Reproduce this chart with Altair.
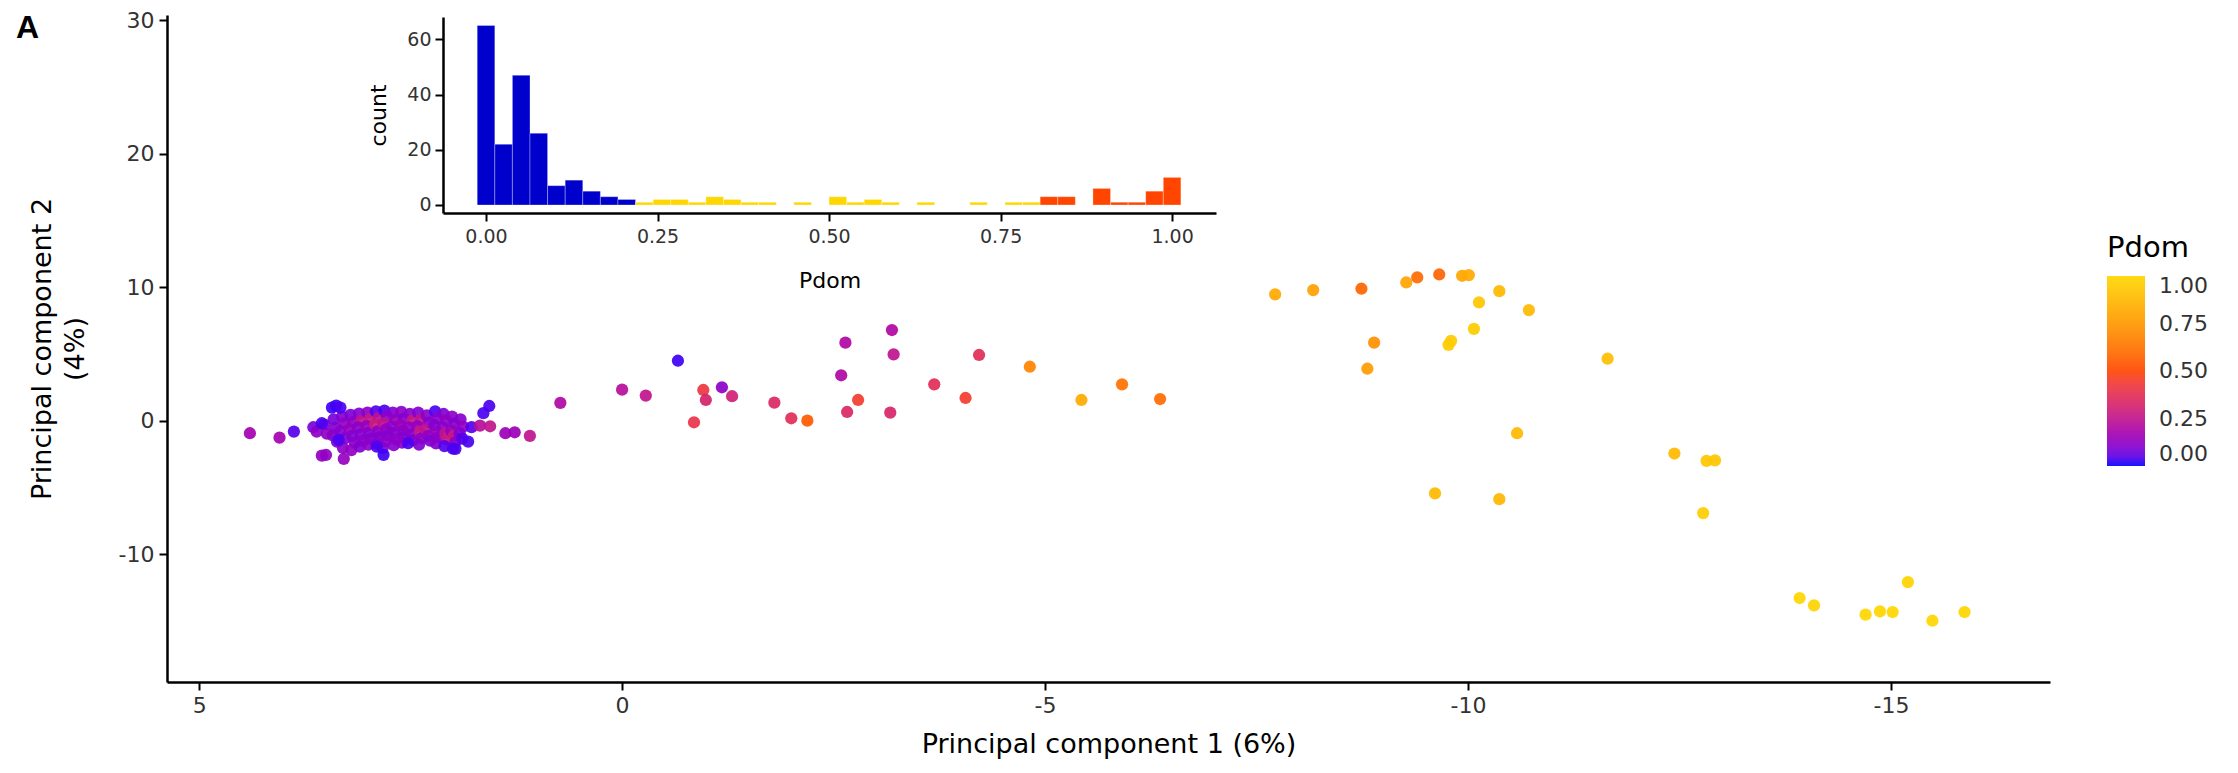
import altair as alt
import pandas as pd

# ---------------- scatter data (PC1, PC2, Pdom) ----------------
# dense cluster on the left
cl_x = [3.52, 3.49,
        3.41, 3.39, 3.42, 3.37,
        3.31, 3.28, 3.33, 3.27, 3.30,
        3.21, 3.18, 3.22, 3.19, 3.16, 3.20,
        3.11, 3.08, 3.12, 3.09, 3.06, 3.10,
        3.01, 2.98, 3.02, 2.99, 2.97, 3.00,
        2.91, 2.88, 2.92, 2.89, 2.87, 2.90,
        2.81, 2.78, 2.82, 2.79, 2.77, 2.80, 2.83,
        2.71, 2.68, 2.72, 2.69, 2.67, 2.70,
        2.61, 2.58, 2.62, 2.59, 2.57, 2.60,
        2.51, 2.48, 2.52, 2.49, 2.47,
        2.41, 2.38, 2.42, 2.39, 2.37, 2.40,
        2.31, 2.28, 2.32, 2.29, 2.27,
        2.21, 2.18, 2.22, 2.19, 2.17, 2.20,
        2.11, 2.08, 2.12, 2.09, 2.07, 2.10,
        2.01, 1.98, 2.02, 1.99, 1.97, 2.00,
        1.91, 1.88, 1.92, 1.89]
cl_y = [-0.28, -0.95,
        0.12, -0.52, -1.08, -1.55,
        0.33, -0.18, -0.78, -1.28, -2.02,
        0.45, -0.08, -0.62, -1.12, -1.63, -2.18,
        0.55, 0.02, -0.48, -1.02, -1.47, -1.92,
        0.62, 0.12, -0.38, -0.88, -1.33, -1.78,
        0.72, 0.22, -0.28, -0.78, -1.22, -1.68,
        0.78, 0.32, -0.18, -0.62, -1.08, -1.52, -2.02,
        0.62, 0.08, -0.42, -0.92, -1.38, -1.82,
        0.68, 0.18, -0.32, -0.72, -1.18, -1.62,
        0.52, 0.02, -0.48, -1.02, -1.42,
        0.62, 0.08, -0.38, -0.82, -1.28, -1.78,
        0.42, -0.12, -0.62, -1.12, -1.48,
        0.72, 0.18, -0.32, -0.82, -1.22, -1.68,
        0.52, 0.02, -0.48, -0.92, -1.38, -1.88,
        0.32, -0.22, -0.72, -1.12, -1.58, -2.08,
        0.12, -0.42, -0.92, -1.32]
cl_p = [0.10, 0.12,
        0.08, 0.10, 0.12, 0.09,
        0.10, 0.13, 0.11, 0.10, 0.12,
        0.09, 0.12, 0.14, 0.10, 0.11, 0.13,
        0.10, 0.25, 0.12, 0.10, 0.12, 0.10,
        0.12, 0.27, 0.14, 0.11, 0.10, 0.12,
        0.04, 0.24, 0.28, 0.12, 0.10, 0.11,
        0.03, 0.12, 0.25, 0.13, 0.10, 0.12, 0.10,
        0.10, 0.14, 0.12, 0.10, 0.13, 0.11,
        0.12, 0.10, 0.15, 0.12, 0.10, 0.12,
        0.11, 0.27, 0.13, 0.11, 0.10,
        0.10, 0.25, 0.14, 0.27, 0.12, 0.10,
        0.12, 0.11, 0.24, 0.13, 0.10,
        0.03, 0.12, 0.10, 0.14, 0.12, 0.11,
        0.10, 0.13, 0.11, 0.25, 0.27, 0.04,
        0.12, 0.10, 0.14, 0.27, 0.12, 0.03,
        0.11, 0.13, 0.10, 0.04]

# points around the cluster edge
ed_x = [4.40, 4.05, 3.88, 3.65, 3.61, 3.55, 3.43, 3.38, 3.33, 3.55, 3.50,
        3.29, 2.82, 3.35, 2.90, 2.53, 1.97, 1.82, 1.78, 1.64, 1.57, 1.68, 1.56]
ed_y = [-0.92, -1.25, -0.80, -0.47, -0.80, -0.17, 1.00, 1.15, 1.00, -2.60, -2.55,
        -2.84, -2.54, -1.42, -1.92, -1.67, -2.09, -1.55, -0.47, 0.58, 1.12, -0.35, -0.40]
ed_p = [0.17, 0.17, 0.04, 0.08, 0.12, 0.03, 0.02, 0.02, 0.03, 0.13, 0.13,
        0.14, 0.02, 0.03, 0.03, 0.03, 0.03, 0.03, 0.04, 0.03, 0.03, 0.22, 0.25]

# spread-out points (middle and right)
sp_x = [1.38, 1.27, 1.09, 0.73, 0.00, -0.28, -0.66, -0.85, -0.96, -0.99, -1.18,
        -1.30, -1.80, -2.00, -2.19, -2.59, -2.64, -2.66, -2.79, -3.19, -3.21,
        -3.17, -3.69, -4.06, -4.22, -4.82, -5.43, -5.91, -6.36,
        -7.72, -8.17, -8.74, -9.27, -9.40, -9.66, -9.93, -10.01, -10.37, -10.13,
        -10.72, -10.07, -9.77, -9.80, -8.89, -8.81, -11.65, -10.58, -12.44,
        -12.82, -12.92, -9.61, -10.37, -12.78, -13.92, -14.09, -14.70, -14.87,
        -15.02, -15.20, -15.49, -15.87]
sp_y = [-0.92, -0.85, -1.12, 1.35, 2.34, 1.90, 4.51, -0.10, 2.32, 1.57, 2.52,
        1.85, 1.37, 0.20, 0.02, 3.42, 5.86, 0.67, 1.57, 6.81, 4.99,
        0.62, 2.74, 1.72, 4.94, 4.06, 1.57, 2.74, 1.64,
        9.48, 9.80, 9.90, 10.37, 10.75, 10.97, 10.87, 10.92, 9.72, 8.88,
        8.30, 6.90, 5.70, 6.00, 5.86, 3.91, 4.66, -0.92, -2.44,
        -2.99, -2.95, -5.43, -5.86, -6.90, -13.26, -13.81, -14.51, -14.26,
        -14.31, -12.07, -14.96, -14.31]
sp_p = [0.15, 0.15, 0.25, 0.20, 0.22, 0.25, 0.02, 0.40, 0.42, 0.32, 0.12,
        0.30, 0.34, 0.37, 0.55, 0.20, 0.20, 0.34, 0.45, 0.20, 0.25,
        0.33, 0.37, 0.45, 0.37, 0.68, 0.82, 0.62, 0.60,
        0.82, 0.78, 0.58, 0.80, 0.60, 0.58, 0.80, 0.82, 0.88, 0.93,
        0.88, 0.95, 0.95, 0.95, 0.72, 0.76, 0.90, 0.88, 0.88,
        0.93, 0.93, 0.88, 0.87, 0.96, 1.00, 0.98, 1.00, 0.99,
        1.00, 0.98, 1.00, 0.99]

# ---------------- histogram data (40 bins over Pdom 0..1) ----------------
bin_index = list(range(40))
bin_count = [65, 22, 47, 26, 7, 9, 5, 3, 2, 1,
             2, 2, 1, 3, 2, 1, 1, 0, 1, 0,
             3, 1, 2, 1, 0, 1, 0, 0, 1, 0,
             1, 1, 3, 3, 0, 6, 1, 1, 5, 10]
bin_group = ["low"] * 9 + ["mid"] * 23 + ["high"] * 8
group_names = ["low", "mid", "high"]
group_colors = ["#0000CD", "#FFD700", "#FF4500"]

pdom_ticks = [0, 0.25, 0.5, 0.75, 1]
panel_label = ["A"]

scatter_df = pd.DataFrame({
    "pc1": cl_x + ed_x + sp_x,
    "pc2": cl_y + ed_y + sp_y,
    "Pdom": cl_p + ed_p + sp_p,
})

binw = 1 / 39
hist_df = pd.DataFrame({
    "lo": [k * binw - binw / 2 for k in bin_index],
    "hi": [k * binw + binw / 2 for k in bin_index],
    "count": bin_count,
    "grp": bin_group,
})
hist_df = hist_df[hist_df["count"] > 0]

FONT = "DejaVu Sans"
W, H = 1883, 667
NEG = "datum.value < 0 ? '-' + abs(datum.value) : '' + datum.value"

points = alt.Chart(scatter_df).mark_circle(size=150, opacity=0.92).encode(
    x=alt.X("pc1:Q",
            scale=alt.Scale(domain=[-16.88, 5.38], reverse=True, nice=False, zero=False),
            axis=alt.Axis(orient="bottom", values=[5, 0, -5, -10, -15], labelExpr=NEG,
                          title="Principal component 1 (6%)",
                          titleFontSize=27, titleBaseline="alphabetic", titleY=70,
                          labelFontSize=22, labelPadding=5)),
    y=alt.Y("pc2:Q",
            scale=alt.Scale(domain=[-19.55, 30.4], nice=False, zero=False),
            axis=alt.Axis(orient="left", values=[-10, 0, 10, 20, 30], labelExpr=NEG,
                          title=["Principal component 2", "(4%)"],
                          titleFontSize=27, titleBaseline="middle", titleX=-125,
                          titleLineHeight=33, labelFontSize=22, labelPadding=5)),
    color=alt.Color("Pdom:Q",
                    scale=alt.Scale(domain=[0, 0.5, 1], range=["blue", "orangered", "gold"],
                                    interpolate="lab"),
                    legend=alt.Legend(orient="none", legendX=1940, legendY=219,
                                      direction="vertical", gradientLength=190,
                                      gradientThickness=38, title="Pdom",
                                      titleFontSize=29, titleFont=FONT,
                                      titleFontWeight="normal", titleColor="black",
                                      titlePadding=13, labelFontSize=22, labelFont=FONT,
                                      labelColor="#333333", labelOffset=14,
                                      values=pdom_ticks, format=".2f",
                                      gradientStrokeWidth=0)),
)

bars = alt.Chart(hist_df).mark_rect(stroke="white", strokeWidth=0.6, strokeOpacity=0.5).encode(
    x=alt.X("lo:Q",
            scale=alt.Scale(domain=[-0.0627, 1.064], range=[276, 1049], nice=False, zero=False),
            axis=alt.Axis(orient="bottom", offset=-469, values=pdom_ticks, format=".2f",
                          title="Pdom", titleFontSize=22, titleBaseline="alphabetic",
                          titleY=74, labelFontSize=19, labelPadding=6)),
    x2="hi:Q",
    y=alt.Y("count:Q",
            scale=alt.Scale(domain=[-2.9, 68.1], range=[198, 2], nice=False, zero=False),
            axis=alt.Axis(orient="left", offset=-276, values=[0, 20, 40, 60],
                          title="count", titleFontSize=22, titleBaseline="middle",
                          titleX=-65, labelFontSize=19, labelPadding=4)),
    y2=alt.datum(0),
    color=alt.Color("grp:N", scale=alt.Scale(domain=group_names, range=group_colors),
                    legend=None),
)

label = alt.Chart(pd.DataFrame({"lab": panel_label})).mark_text(
    font="Liberation Sans", fontSize=32, fontWeight="bold", color="black",
    align="left", baseline="alphabetic",
).encode(text="lab:N", x=alt.value(-151), y=alt.value(23))

chart = alt.layer(points, bars, label).resolve_scale(
    x="independent", y="independent", color="independent"
).properties(
    width=W, height=H,
    autosize=alt.AutoSizeParams(type="none"),
    padding={"left": 159, "top": 7, "right": 170, "bottom": 83},
).configure_view(stroke=None).configure_axis(
    grid=False, domainColor="black", domainWidth=2.5, tickColor="black",
    tickWidth=2, tickSize=8, labelFont=FONT, titleFont=FONT, labelColor="#333333",
    titleColor="black", titleFontWeight="normal",
)

chart.save("out.html", embed_options={"renderer": "svg", "actions": False})
